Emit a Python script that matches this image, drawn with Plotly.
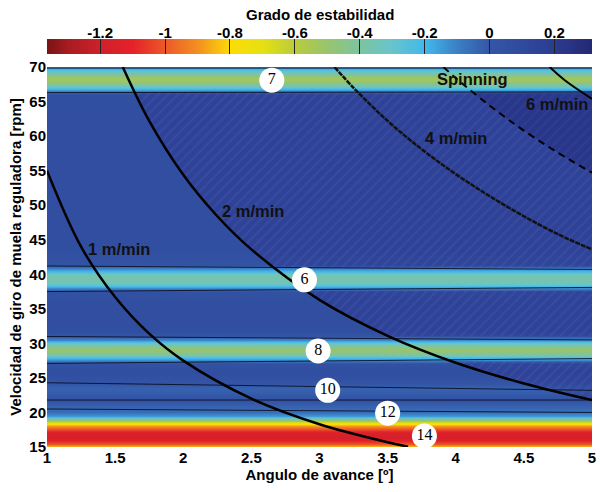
import numpy as np
import plotly.graph_objects as go

# ---- data ----
# stability profile along the regulating-wheel speed axis
speed_rpm = [15.0, 15.5, 16.0, 16.5, 17.0, 17.5, 18.0, 18.5, 19.0, 19.5, 20.0, 20.5, 21.0,
             22.0, 23.0, 23.5, 24.0, 25.0, 26.0, 27.0, 27.5, 28.0, 28.5, 29.0, 29.5, 30.0,
             30.5, 31.0, 32.0, 35.0, 37.5, 38.0, 38.5, 39.0, 39.5, 40.0, 40.5, 41.0, 41.5,
             45.0, 60.0, 66.0, 66.5, 67.0, 67.5, 68.0, 68.5, 69.0, 69.5, 70.0]
stability = [-0.80, -1.00, -1.12, -1.18, -1.15, -1.05, -0.90, -0.75, -0.40, -0.15, -0.06, -0.05, -0.03,
             0.02, -0.02, -0.03, -0.01, 0.04, 0.06, 0.04, -0.08, -0.25, -0.42, -0.50, -0.45, -0.30,
             -0.12, 0.0, 0.06, 0.07, 0.04, -0.12, -0.28, -0.36, -0.38, -0.33, -0.20, -0.06, 0.03,
             0.07, 0.07, 0.06, -0.10, -0.25, -0.42, -0.52, -0.52, -0.40, -0.25, -0.12]
angle_cols = [0.0, 6.0]

# colour scale (value, colour)
cmin, cmax = -1.364, 0.316
cs_values = [-1.364, -1.30, -1.20, -1.10, -1.00, -0.90, -0.80, -0.70, -0.60, -0.50, -0.40,
             -0.30, -0.20, -0.10, 0.0, 0.10, 0.20, 0.316]
cs_colors = ["#7a1416", "#a81c20", "#d0202a", "#e5222a", "#ec5a28", "#f39020", "#fddc06",
             "#e6e012", "#b8cc3c", "#98c46e", "#7cc4a2", "#68c4cc", "#40b8ec", "#3b7fc4",
             "#3456a6", "#2f4a9e", "#2c3c90", "#242872"]
cbar_ticks = [-1.2, -1.0, -0.8, -0.6, -0.4, -0.2, 0.0, 0.2]
cbar_ticktext = ["-1.2", "-1", "-0.8", "-0.6", "-0.4", "-0.2", "0", "0.2"]

# constant feed-rate curves (angle [deg], speed [rpm])
c1_x = [1.0, 1.25, 1.5, 1.75, 2.0, 2.5, 3.0, 3.5, 3.65]
c1_y = [55.0, 44.0, 36.7, 31.4, 27.5, 22.0, 18.3, 15.7, 15.05]
c2_x = [1.556, 1.75, 2.0, 2.25, 2.5, 3.0, 3.5, 4.0, 4.5, 5.0]
c2_y = [70.0, 62.2, 54.4, 48.4, 43.6, 36.3, 31.1, 27.2, 24.2, 21.8]
c4_x = [3.11, 3.25, 3.5, 3.75, 4.0, 4.25, 4.5, 4.75, 5.0]
c4_y = [70.0, 67.0, 62.2, 58.1, 54.5, 51.3, 48.4, 45.8, 43.6]
c5_x = [3.91, 4.0, 4.25, 4.5, 4.75, 5.0]
c5_y = [70.0, 68.4, 64.4, 60.8, 57.6, 54.7]
c6_x = [4.69, 4.8, 5.0]
c6_y = [70.0, 68.1, 65.4]

# thin lobe-boundary lines (speed at angle 1 and at angle 5)
lobe_line_left = [69.85, 66.3, 41.2, 37.5, 31.0, 27.1, 24.3, 21.8, 20.5]
lobe_line_right = [69.85, 66.4, 40.7, 38.1, 30.5, 27.8, 23.2, 21.8, 20.0]

# hatched (stable) zone speed ranges right of the 2 m/min curve
hatch_lo = [41.0, 31.0, 21.8]
hatch_hi = [66.3, 37.6, 27.4]

# lobe number labels
lobe_num = ["7", "6", "8", "10", "12", "14"]
lobe_x = [2.65, 2.89, 2.99, 3.06, 3.50, 3.77]
lobe_y = [68.1, 39.2, 28.9, 23.2, 19.9, 16.6]

# curve labels
lab_text = ["1 m/min", "2 m/min", "4 m/min", "6 m/min", "Spinning"]
lab_x = [1.53, 2.51, 4.00, 4.74, 4.12]
lab_y = [43.7, 49.2, 59.8, 64.6, 68.3]

# ---- figure ----
FONT = "Liberation Sans, Arial, sans-serif"
BOLD = dict(family=FONT, size=15, color="black", weight="bold")
colorscale = [[(v - cmin) / (cmax - cmin), c] for v, c in zip(cs_values, cs_colors)]
z = [[s for _ in angle_cols] for s in stability]

fig = go.Figure()
fig.add_trace(go.Heatmap(
    x=angle_cols, y=speed_rpm, z=z, zsmooth="best",
    colorscale=colorscale, zmin=cmin, zmax=cmax, showscale=False, hoverinfo="skip",
    xaxis="x", yaxis="y"))

# colour bar drawn as its own strip
fig.add_trace(go.Heatmap(
    x=cs_values, y=[0, 1], z=[cs_values, cs_values], zsmooth="best",
    colorscale=colorscale, zmin=cmin, zmax=cmax, showscale=False, hoverinfo="skip",
    xaxis="x2", yaxis="y2"))

def curve_x_at(cx, cy, yv):
    return float(np.interp(yv, cy[::-1], cx[::-1]))

# hatched stable zones
for lo, hi in zip(hatch_lo, hatch_hi):
    pts_x, pts_y = [], []
    for xx, yy in zip(c2_x, c2_y):
        if lo < yy < hi:
            pts_x.append(xx); pts_y.append(yy)
    top_x = curve_x_at(c2_x, c2_y, hi)
    bot_x = min(curve_x_at(c2_x, c2_y, lo), 5.0)
    px = [top_x] + pts_x + [bot_x, 5.0, 5.0, top_x]
    py = [hi] + pts_y + [max(lo, min(c2_y)), lo, hi, hi]
    fig.add_trace(go.Scatter(
        x=px, y=py, mode="lines", line=dict(width=0), fill="toself",
        fillcolor="rgba(40,40,130,0.30)",
        fillpattern=dict(shape="/", fgcolor="rgba(95,105,195,0.45)", size=7,
                         solidity=0.25, fillmode="overlay"),
        hoverinfo="skip", showlegend=False))

# darker zone above the dashed curve
top_lim = hatch_hi[0]
dx = [curve_x_at(c5_x, c5_y, top_lim)] + [xx for xx, yy in zip(c5_x, c5_y) if yy < top_lim]
dy = [top_lim] + [yy for yy in c5_y if yy < top_lim]
fig.add_trace(go.Scatter(
    x=dx + [5.0, dx[0]], y=dy + [top_lim, top_lim], mode="lines", line=dict(width=0),
    fill="toself", fillcolor="rgba(30,30,110,0.30)", hoverinfo="skip", showlegend=False))

# thin lobe boundary lines
for yl, yr in zip(lobe_line_left, lobe_line_right):
    fig.add_trace(go.Scatter(x=[1, 5], y=[yl, yr], mode="lines",
                             line=dict(color="rgba(10,10,30,0.85)", width=1),
                             hoverinfo="skip", showlegend=False))

# feed-rate curves
fig.add_trace(go.Scatter(x=c1_x, y=c1_y, mode="lines", line=dict(color="black", width=2.5, shape="spline"), showlegend=False, hoverinfo="skip"))
fig.add_trace(go.Scatter(x=c2_x, y=c2_y, mode="lines", line=dict(color="black", width=2.5, shape="spline"), showlegend=False, hoverinfo="skip"))
fig.add_trace(go.Scatter(x=c4_x, y=c4_y, mode="lines", line=dict(color="#111", width=2.5, dash="5px,1px", shape="spline"), showlegend=False, hoverinfo="skip"))
fig.add_trace(go.Scatter(x=c5_x, y=c5_y, mode="lines", line=dict(color="black", width=2, dash="7px,5px", shape="spline"), showlegend=False, hoverinfo="skip"))
fig.add_trace(go.Scatter(x=c6_x, y=c6_y, mode="lines", line=dict(color="black", width=2, shape="spline"), showlegend=False, hoverinfo="skip"))

# lobe circles
fig.add_trace(go.Scatter(
    x=lobe_x, y=lobe_y, mode="markers+text", text=lobe_num, textposition="middle center",
    marker=dict(size=25, color="white", line=dict(width=0)),
    textfont=dict(family="Liberation Serif, Times New Roman, serif", size=16, color="black"),
    hoverinfo="skip", showlegend=False))

# curve labels
for t, xx, yy in zip(lab_text, lab_x, lab_y):
    fig.add_annotation(x=xx, y=yy, text=t, showarrow=False, xref="x", yref="y",
                       font=dict(family=FONT, size=16.5, color="#111", weight="bold"))

# colour bar title
fig.add_annotation(x=0.5, y=1.057, xref="paper", yref="paper", text="Grado de estabilidad",
                   showarrow=False, xanchor="center", yanchor="middle", font=BOLD)

fig.update_layout(
    width=600, height=492, margin=dict(l=47, r=8, t=38, b=45, autoexpand=False),
    paper_bgcolor="white", plot_bgcolor="white", showlegend=False,
    xaxis=dict(range=[1, 5], tickvals=[1, 1.5, 2, 2.5, 3, 3.5, 4, 4.5, 5],
               ticktext=["1", "1.5", "2", "2.5", "3", "3.5", "4", "4.5", "5"],
               showgrid=False, zeroline=False, ticks="", tickfont=BOLD, domain=[0, 1],
               ticklabeloverflow="allow",
               title=dict(text="Angulo de avance [º]", standoff=0, font=BOLD)),
    yaxis=dict(range=[15, 70], tickvals=list(range(15, 71, 5)), domain=[0, 0.929],
               showgrid=False, zeroline=False, ticks="", tickfont=BOLD,
               title=dict(text="Velocidad de giro de muela reguladora [rpm]", standoff=4, font=BOLD)),
    xaxis2=dict(anchor="y2", side="top", range=[cmin, cmax], domain=[0, 1],
                tickvals=cbar_ticks, ticktext=cbar_ticktext, tickfont=BOLD,
                ticks="inside", ticklen=15, tickcolor="#222", tickwidth=1,
                ticklabelstandoff=-3,
                showgrid=True, gridcolor="rgba(0,0,0,0.8)", griddash="4px,3px", gridwidth=1,
                layer="above traces", zeroline=False, showline=False),
    yaxis2=dict(anchor="x2", domain=[0.961, 0.9975], range=[0, 1],
                showticklabels=False, showgrid=False, zeroline=False, ticks=""),
)
fig.write_html("out.html", config={"displayModeBar": False},
               post_script="document.body.style.margin='0px';")
